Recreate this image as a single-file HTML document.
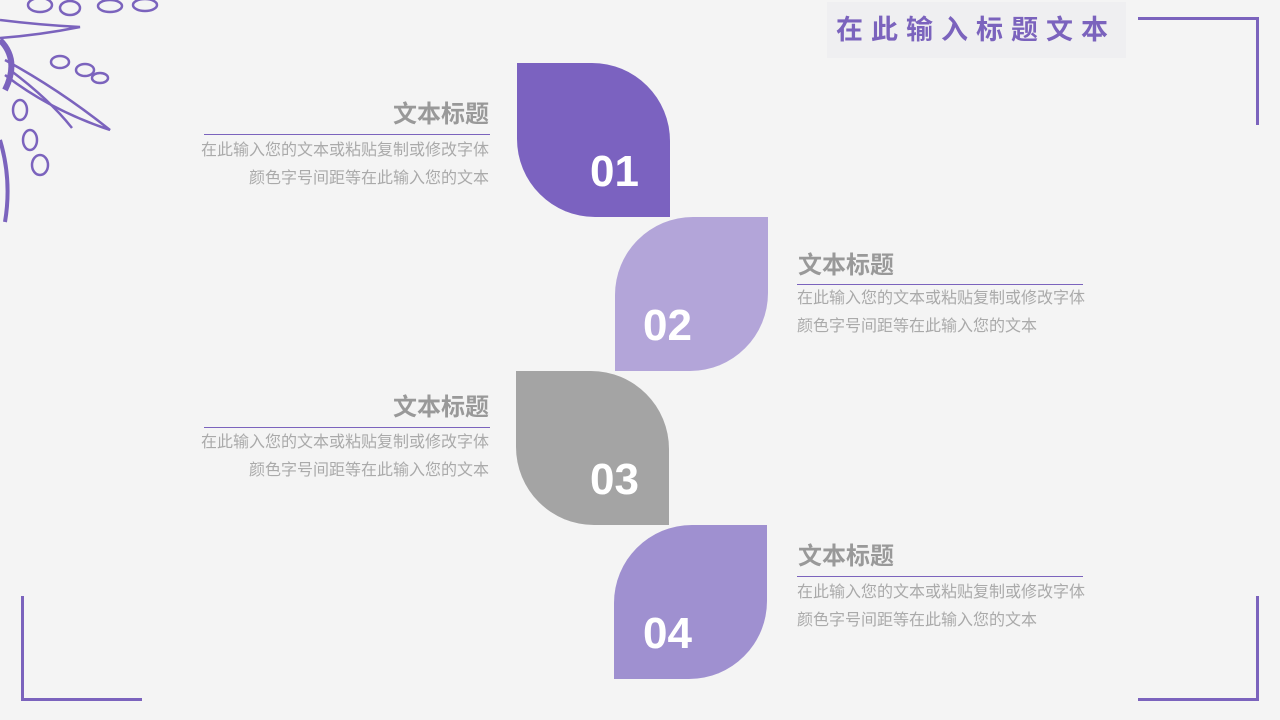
<!DOCTYPE html>
<html><head><meta charset="utf-8"><style>
body{margin:0;width:1280px;height:720px;background:#f4f4f4;position:relative;overflow:hidden;font-family:"Liberation Sans","Noto Sans CJK SC",sans-serif}
.a{position:absolute}
.leaf{position:absolute;width:153px;height:154px;color:#fff;font-weight:bold;font-size:44px;line-height:1}
.leaf span{position:absolute}
.t{position:absolute;font-size:24px;font-weight:bold;color:#999;line-height:1}
.b{position:absolute;font-size:16px;color:#aaa;line-height:28px;white-space:nowrap}
.ln{position:absolute;height:1px;background:#7b63bd;width:286px}
</style></head><body>
<svg class="a" style="left:0;top:0" width="170" height="230" viewBox="0 0 170 230" fill="none" stroke="#7b63bd" stroke-width="2.5">
<ellipse cx="40" cy="5" rx="12" ry="7"/><ellipse cx="70" cy="8" rx="10" ry="7"/><ellipse cx="110" cy="6" rx="12" ry="6"/><ellipse cx="145" cy="5" rx="12" ry="6"/>
<path d="M0 20 Q40 25 80 27 Q40 35 0 38"/><path d="M5 60 Q60 90 110 130 Q50 110 5 75"/><path d="M10 70 Q50 100 72 128"/>
<ellipse cx="60" cy="62" rx="9" ry="6"/><ellipse cx="85" cy="70" rx="9" ry="6"/><ellipse cx="100" cy="78" rx="8" ry="5"/>
<ellipse cx="20" cy="110" rx="7" ry="10"/><ellipse cx="30" cy="140" rx="7" ry="10"/><ellipse cx="40" cy="165" rx="8" ry="10"/>
<path d="M0 140 Q12 180 5 222" stroke-width="4"/>
<path d="M0 40 Q20 60 5 90" stroke-width="6"/>
</svg>
<div class="a" style="left:827px;top:2px;width:299px;height:56px;background:#efeff1"></div>
<div class="a" style="left:836px;top:17px;font-size:27px;font-weight:bold;color:#7b63bd;letter-spacing:8px;line-height:1">在此输入标题文本</div>
<div class="a" style="left:1138px;top:17px;width:121px;height:3px;background:#7b63bd"></div>
<div class="a" style="left:1256px;top:17px;width:3px;height:108px;background:#7b63bd"></div>
<div class="a" style="left:21px;top:596px;width:3px;height:105px;background:#7b63bd"></div>
<div class="a" style="left:21px;top:698px;width:121px;height:3px;background:#7b63bd"></div>
<div class="a" style="left:1256px;top:596px;width:3px;height:105px;background:#7b63bd"></div>
<div class="a" style="left:1138px;top:698px;width:121px;height:3px;background:#7b63bd"></div>

<div class="leaf" style="left:517px;top:63px;background:#7b62c0;border-radius:0 78px 0 78px"><span style="left:73px;top:87px">01</span></div>
<div class="leaf" style="left:615px;top:217px;background:#b3a5d9;border-radius:78px 0 78px 0"><span style="left:28px;top:87px">02</span></div>
<div class="leaf" style="left:516px;top:371px;background:#a4a4a4;border-radius:0 78px 0 78px"><span style="left:74px;top:87px">03</span></div>
<div class="leaf" style="left:614px;top:525px;background:#9f90d0;border-radius:78px 0 78px 0"><span style="left:29px;top:87px">04</span></div>

<div class="t" style="right:791px;top:103px">文本标题</div>
<div class="ln" style="left:204px;top:134px"></div>
<div class="b" style="right:791px;top:137px;text-align:right">在此输入您的文本或粘贴复制或修改字体<br>颜色字号间距等在此输入您的文本</div>

<div class="t" style="left:798px;top:254px">文本标题</div>
<div class="ln" style="left:797px;top:284px"></div>
<div class="b" style="left:797px;top:285px">在此输入您的文本或粘贴复制或修改字体<br>颜色字号间距等在此输入您的文本</div>

<div class="t" style="right:791px;top:396px">文本标题</div>
<div class="ln" style="left:204px;top:427px"></div>
<div class="b" style="right:791px;top:429px;text-align:right">在此输入您的文本或粘贴复制或修改字体<br>颜色字号间距等在此输入您的文本</div>

<div class="t" style="left:798px;top:545px">文本标题</div>
<div class="ln" style="left:797px;top:576px"></div>
<div class="b" style="left:797px;top:579px">在此输入您的文本或粘贴复制或修改字体<br>颜色字号间距等在此输入您的文本</div>
</body></html>
